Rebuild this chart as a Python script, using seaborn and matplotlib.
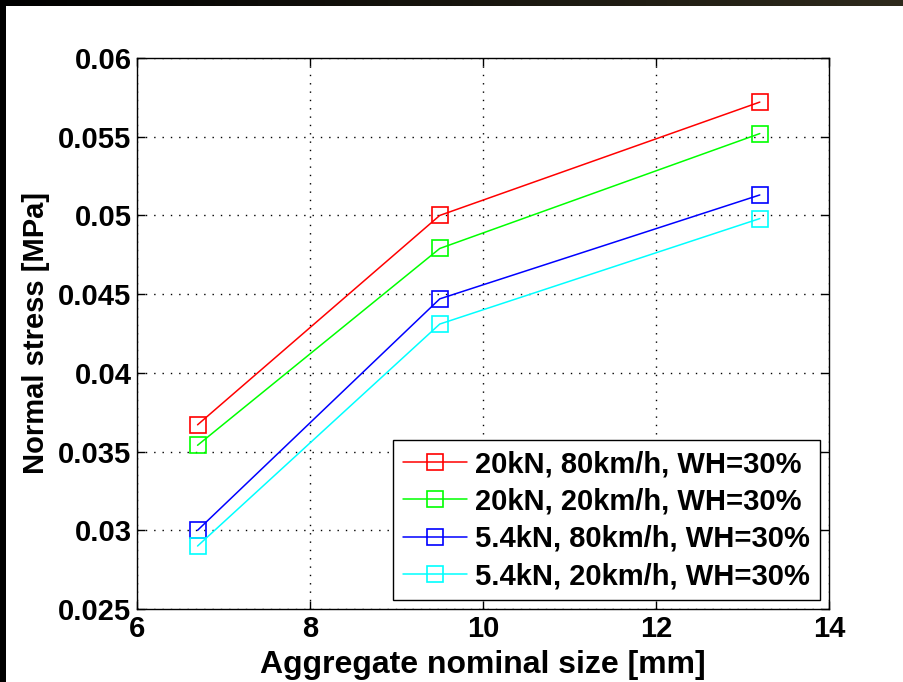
import numpy as np
import pandas as pd
import matplotlib
matplotlib.use("Agg")
import matplotlib.pyplot as plt
import seaborn as sns
from matplotlib.colors import LinearSegmentedColormap

# ---- data ----
agg_size = [6.7, 9.5, 13.2]
red_20kN_80 = [0.0367, 0.0500, 0.0572]
green_20kN_20 = [0.0354, 0.0479, 0.0552]
blue_54kN_80 = [0.0300, 0.0447, 0.0513]
cyan_54kN_20 = [0.0290, 0.0431, 0.0498]
labels = ["20kN, 80km/h, WH=30%", "20kN, 20km/h, WH=30%",
          "5.4kN, 80km/h, WH=30%", "5.4kN, 20km/h, WH=30%"]
colors = ["#ff0000", "#00ff00", "#0000ff", "#00ffff"]
series = [red_20kN_80, green_20kN_20, blue_54kN_80, cyan_54kN_20]
xticks = [6, 8, 10, 12, 14]
yticks = [0.025, 0.03, 0.035, 0.04, 0.045, 0.05, 0.055, 0.06]
ytick_labels = ["0.025", "0.03", "0.035", "0.04", "0.045", "0.05", "0.055", "0.06"]

sns.set_theme(style="white")
plt.rcParams["font.family"] = ["Liberation Sans", "DejaVu Sans"]
plt.rcParams["font.weight"] = "bold"
plt.rcParams["text.color"] = "black"
plt.rcParams["axes.labelcolor"] = "black"
plt.rcParams["xtick.color"] = "black"
plt.rcParams["ytick.color"] = "black"

fig = plt.figure(figsize=(9.04, 6.82), dpi=100)
fig.patch.set_facecolor("white")
ax = fig.add_axes([137/904, 1-609/682, (829-137)/904, (609-58)/682])

for vals, lab, c in zip(series, labels, colors):
    df = pd.DataFrame({"x": agg_size, "y": vals})
    sns.lineplot(data=df, x="x", y="y", ax=ax, color=c, label=lab,
                 marker="s", markersize=12, mfc="none", mec=c, mew=1.2,
                 linewidth=1.1)

ax.set_xlim(6, 14)
ax.set_ylim(0.025, 0.06)
ax.set_xticks(xticks)
ax.set_xticklabels([str(t) for t in xticks])
ax.set_yticks(yticks)
ax.set_yticklabels(ytick_labels)
ax.tick_params(direction="in", length=6, width=1, colors="black",
               labelsize=21, top=True, right=True, bottom=True, left=True, pad=4)
for lbl in ax.get_xticklabels() + ax.get_yticklabels():
    lbl.set_fontweight("bold")
    lbl.set_color("black")
ax.grid(True, color="black", linestyle=(0, (1, 5)), linewidth=1.0)
for sp in ax.spines.values():
    sp.set_color("black")
    sp.set_linewidth(1.0)
ax.set_xlabel("Aggregate nominal size [mm]", fontsize=23, fontweight="bold",
              labelpad=5, color="black")
ax.set_ylabel("Normal stress [MPa]", fontsize=21, fontweight="bold",
              labelpad=6, color="black")

leg = ax.legend(loc="lower right", fontsize=21, frameon=True, fancybox=False,
                edgecolor="black", framealpha=1, borderpad=0.35, labelspacing=0.32,
                handlelength=2.2, handletextpad=0.28, borderaxespad=0.3)
leg.get_frame().set_linewidth(1.0)
for t in leg.get_texts():
    t.set_fontweight("bold")
    t.set_color("black")

# dark screen-capture borders (top gradient, left bar)
top_ax = fig.add_axes([0, 1-6/682, 1, 6/682])
grad = np.linspace(0, 1, 256).reshape(1, -1)
cmap = LinearSegmentedColormap.from_list("b", ["#000000", "#2e2a1c"])
top_ax.imshow(grad, aspect="auto", cmap=cmap)
top_ax.set_axis_off()
left_ax = fig.add_axes([0, 0, 6/904, 1])
left_ax.set_facecolor("black")
left_ax.set_xticks([]); left_ax.set_yticks([])
for sp in left_ax.spines.values():
    sp.set_visible(False)

fig.savefig("out.png", dpi=100)
